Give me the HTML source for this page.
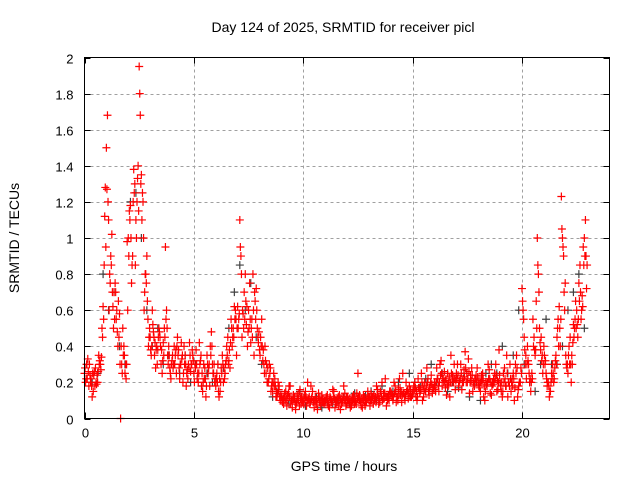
<!DOCTYPE html>
<html><head><meta charset="utf-8"><style>
body{margin:0;background:#fff}
svg{display:block;font-family:"Liberation Sans",sans-serif}
</style></head><body>
<svg id="chart" width="640" height="480">
<text x="343" y="32" font-size="14" text-anchor="middle">Day 124 of 2025, SRMTID for receiver picl</text>
<text x="344" y="471" font-size="14" text-anchor="middle">GPS time / hours</text>
<text x="19" y="238" font-size="14" text-anchor="middle" transform="rotate(-90 19 238)">SRMTID / TECUs</text>
<g id="grid"></g>
<g id="ticks"></g>
<g id="gray"></g>
<g id="red"></g>
<rect x="84.5" y="57.5" width="525" height="361" fill="none" stroke="#000"/>
</svg>
<script>
const xTicks=[0,5,10,15,20];
const yTicks=[0,0.2,0.4,0.6,0.8,1,1.2,1.4,1.6,1.8,2];
const yTickLabels=["0","0.2","0.4","0.6","0.8","1","1.2","1.4","1.6","1.8","2"];
const redAStart=0, redAStep=0.1;
const redA=[0.25,0.3,0.18,0.22,0.15,0.28,0.2,0.32,0.5,0.85,
1.5,1.1,0.9,0.62,0.75,0.48,0.58,0.3,0.4,0.22,
1.0,1.18,0.9,1.3,1.2,1.95,1.35,1.0,0.8,0.55,
0.45,0.6,0.35,0.4,0.5,0.3,0.42,0.95,0.35,0.28,
0.32,0.4,0.25,0.38,0.3,0.2,0.35,0.27,0.42,0.3,
0.25,0.38,0.2,0.32,0.15,0.28,0.35,0.3,0.48,0.25,
0.18,0.3,0.15,0.35,0.22,0.4,0.32,0.55,0.5,0.6,
0.62,1.1,0.45,0.7,0.52,0.6,0.42,0.8,0.65,0.5,
0.38,0.55,0.3,0.25,0.2,0.28,0.15,0.22,0.12,0.18,
0.12,0.08,0.15,0.1,0.18,0.06,0.12,0.09,0.14,0.08,
0.1,0.15,0.2,0.08,0.12,0.06,0.1,0.14,0.07,0.11,
0.09,0.13,0.06,0.1,0.15,0.08,0.12,0.05,0.1,0.14,
0.08,0.11,0.07,0.13,0.09,0.25,0.1,0.06,0.12,0.09,
0.1,0.14,0.08,0.12,0.16,0.09,0.2,0.11,0.07,0.13,
0.15,0.1,0.18,0.12,0.22,0.09,0.14,0.2,0.11,0.16,
0.13,0.2,0.1,0.17,0.25,0.12,0.15,0.22,0.18,0.14,
0.2,0.28,0.15,0.32,0.22,0.17,0.25,0.12,0.2,0.3,
0.25,0.18,0.3,0.22,0.37,0.2,0.14,0.28,0.19,0.24,
0.2,0.15,0.25,0.1,0.18,0.27,0.13,0.22,0.3,0.16,
0.2,0.12,0.28,0.35,0.2,0.15,0.25,0.3,0.12,0.2,
0.72,0.45,0.22,0.3,0.15,0.55,0.35,1.0,0.5,0.32,
0.4,0.25,0.2,0.15,0.3,0.28,0.45,0.62,1.23,0.9,
0.35,0.25,0.45,0.3,0.5,0.6,0.75,0.55,0.95,1.1];
const redBStart=0.05, redBStep=0.1;
const redB=[0.2,0.33,0.24,0.12,0.26,0.19,0.35,0.27,0.62,1.28,
1.68,0.8,1.02,0.7,0.55,0.65,0,0.5,0.25,0.98,
1.15,0.75,1.38,1.1,1.4,1.68,1.25,0.7,0.9,0.45,
0.35,0.48,0.28,0.38,0.45,0.25,0.5,0.6,0.4,0.22,
0.28,0.35,0.45,0.22,0.33,0.4,0.18,0.3,0.26,0.35,
0.3,0.22,0.42,0.18,0.3,0.12,0.25,0.4,0.3,0.2,
0.25,0.12,0.28,0.2,0.3,0.45,0.28,0.4,0.62,0.35,
0.55,0.9,0.58,0.8,0.4,0.75,0.55,0.35,0.72,0.42,
0.45,0.32,0.4,0.2,0.3,0.18,0.25,0.12,0.2,0.1,
0.09,0.14,0.07,0.18,0.1,0.13,0.05,0.11,0.16,0.1,
0.13,0.07,0.11,0.18,0.09,0.12,0.05,0.09,0.13,0.08,
0.12,0.07,0.11,0.16,0.06,0.09,0.13,0.08,0.18,0.07,
0.1,0.06,0.12,0.08,0.14,0.1,0.07,0.13,0.09,0.15,
0.07,0.12,0.1,0.18,0.08,0.14,0.11,0.22,0.1,0.15,
0.12,0.2,0.09,0.16,0.13,0.25,0.1,0.15,0.18,0.12,
0.18,0.12,0.22,0.15,0.1,0.2,0.28,0.13,0.24,0.17,
0.15,0.22,0.3,0.18,0.26,0.13,0.2,0.35,0.23,0.16,
0.3,0.21,0.16,0.27,0.2,0.33,0.24,0.15,0.22,0.28,
0.17,0.24,0.12,0.2,0.3,0.14,0.2,0.25,0.15,0.38,
0.15,0.25,0.18,0.12,0.3,0.22,0.1,0.35,0.18,0.28,
0.6,0.3,0.4,0.2,0.25,0.45,0.65,0.8,0.38,0.25,
0.3,0.18,0.12,0.25,0.2,0.35,0.55,0.4,1.0,0.6,
0.28,0.4,0.2,0.52,0.65,0.45,0.85,0.68,1.0,0.72];
const redCStart=0.025, redCStep=0.1;
const redC=[0.28,0.22,0.3,0.18,0.24,0.2,0.26,0.3,0.45,1.12,
1.27,0.6,0.85,0.5,0.7,0.4,0.3,0.25,0.35,0.3,
0.9,1.0,1.2,0.85,1.33,1.8,1.1,0.6,0.75,0.4,
0.38,0.52,0.42,0.3,0.48,0.38,0.35,0.55,0.3,0.25,
0.35,0.3,0.4,0.28,0.42,0.25,0.3,0.22,0.35,0.38,
0.2,0.3,0.25,0.35,0.2,0.22,0.3,0.18,0.4,0.3,
0.22,0.15,0.2,0.3,0.25,0.35,0.38,0.5,0.45,0.55,
0.5,0.95,0.6,0.55,0.62,0.5,0.5,0.6,0.55,0.45,
0.35,0.4,0.25,0.3,0.22,0.15,0.2,0.18,0.14,0.12,
0.1,0.12,0.11,0.14,0.08,0.1,0.09,0.13,0.07,0.12,
0.08,0.12,0.1,0.09,0.15,0.1,0.08,0.12,0.1,0.09,
0.1,0.08,0.12,0.09,0.11,0.1,0.07,0.11,0.12,0.1,
0.12,0.09,0.1,0.11,0.08,0.12,0.09,0.1,0.07,0.11,
0.12,0.1,0.13,0.09,0.12,0.15,0.1,0.14,0.12,0.1,
0.14,0.12,0.15,0.1,0.17,0.13,0.12,0.15,0.14,0.12,
0.15,0.17,0.12,0.14,0.2,0.16,0.18,0.15,0.2,0.17,
0.18,0.22,0.2,0.25,0.2,0.22,0.18,0.2,0.24,0.22,
0.22,0.2,0.25,0.2,0.28,0.22,0.2,0.24,0.18,0.2,
0.18,0.2,0.22,0.15,0.2,0.22,0.18,0.2,0.24,0.2,
0.18,0.15,0.22,0.25,0.18,0.2,0.22,0.25,0.16,0.2,
0.65,0.38,0.3,0.25,0.2,0.4,0.38,0.85,0.42,0.35,
0.35,0.22,0.18,0.2,0.25,0.32,0.5,0.5,1.05,0.7,
0.3,0.35,0.3,0.42,0.55,0.52,0.65,0.6,0.85,0.9];
const redDStart=0.075, redDStep=0.1;
const redD=[0.22,0.26,0.2,0.25,0.18,0.24,0.3,0.34,0.55,0.95,
1.2,0.75,0.7,0.55,0.6,0.45,0.4,0.35,0.3,0.6,
1.1,0.85,1.25,1.0,1.15,1.3,1.2,0.8,0.65,0.5,
0.4,0.45,0.38,0.45,0.4,0.32,0.45,0.5,0.35,0.3,
0.3,0.38,0.35,0.3,0.35,0.3,0.25,0.28,0.3,0.32,
0.28,0.25,0.3,0.25,0.22,0.18,0.28,0.35,0.25,0.22,
0.2,0.22,0.25,0.28,0.32,0.3,0.42,0.45,0.55,0.5,
0.58,0.8,0.5,0.65,0.48,0.55,0.45,0.7,0.6,0.48,
0.4,0.38,0.32,0.28,0.25,0.2,0.18,0.15,0.16,0.13,
0.11,0.1,0.13,0.12,0.1,0.11,0.08,0.1,0.11,0.09,
0.11,0.1,0.12,0.11,0.1,0.08,0.11,0.1,0.09,0.1,
0.11,0.1,0.09,0.12,0.1,0.11,0.1,0.09,0.1,0.12,
0.1,0.1,0.09,0.1,0.11,0.13,0.11,0.09,0.1,0.12,
0.1,0.12,0.11,0.13,0.11,0.12,0.14,0.12,0.11,0.13,
0.13,0.14,0.12,0.13,0.15,0.14,0.13,0.16,0.12,0.14,
0.16,0.15,0.17,0.16,0.18,0.15,0.2,0.17,0.19,0.16,
0.2,0.18,0.24,0.22,0.21,0.19,0.23,0.25,0.2,0.21,
0.24,0.22,0.2,0.23,0.25,0.26,0.21,0.2,0.22,0.23,
0.2,0.21,0.18,0.19,0.22,0.2,0.19,0.22,0.21,0.24,
0.2,0.2,0.18,0.2,0.22,0.18,0.17,0.28,0.2,0.25,
0.55,0.35,0.32,0.22,0.22,0.38,0.5,0.7,0.45,0.3,
0.32,0.2,0.15,0.22,0.22,0.3,0.4,0.55,0.95,0.75,
0.3,0.3,0.35,0.45,0.5,0.55,0.7,0.62,0.9,0.85];
const grayStart=0.1, grayStep=0.25;
const gray=[0.3,0.2,0.25,0.8,0.6,0.7,0.4,0.3,1.2,1.25,1.0,0.6,0.4,0.5,0.3,0.35,0.3,0.25,0.35,0.2,0.3,0.18,0.25,0.2,0.3,0.28,0.5,0.7,0.85,0.6,0.75,0.45,0.3,0.2,0.12,0.15,0.1,0.08,0.12,0.15,0.07,0.1,0.12,0.06,0.09,0.08,0.1,0.12,0.08,0.14,0.1,0.13,0.15,0.1,0.18,0.12,0.15,0.2,0.14,0.25,0.2,0.18,0.22,0.3,0.2,0.25,0.15,0.2,0.17,0.25,0.12,0.2,0.1,0.25,0.3,0.25,0.4,0.25,0.35,0.6,0.3,0.2,0.15,0.3,0.55,0.3,0.3,0.4,0.6,0.7,0.8,0.5];

const NS='http://www.w3.org/2000/svg';
const X0=84.5,X1=609.5,Y0=418.5,Y1=57.5;
function xs(t){return X0+(t/24)*(X1-X0);}
function ys(v){return Y0-(v/2)*(Y0-Y1);}
function mk(tag,attrs,parent){const e=document.createElementNS(NS,tag);for(const k in attrs)e.setAttribute(k,attrs[k]);parent.appendChild(e);return e;}
const grid=document.getElementById('grid'),ticks=document.getElementById('ticks');
xTicks.forEach((t,i)=>{
  const x=Math.round(xs(t))+0.5;
  if(i>0){const g=mk('line',{x1:x,x2:x,y1:Y1,y2:Y0,stroke:'#a0a0a0','stroke-dasharray':'3,3'},grid);
  
  }
  mk('line',{x1:x,x2:x,y1:Y0,y2:Y0-6,stroke:'#000'},ticks);
  mk('line',{x1:x,x2:x,y1:Y1,y2:Y1+6,stroke:'#000'},ticks);
  const l=mk('text',{x:x,y:Y0+19,'font-size':13,'text-anchor':'middle'},ticks);
  l.textContent=String(t);
  
  
});
yTicks.forEach((v,i)=>{
  const y=Math.round(ys(v))+0.5;
  if(i>0&&i<yTicks.length-1){const g=mk('line',{x1:X0,x2:X1,y1:y,y2:y,stroke:'#a0a0a0','stroke-dasharray':'3,3'},grid);
  
  }
  mk('line',{x1:X0,x2:X0+6,y1:y,y2:y,stroke:'#000'},ticks);
  mk('line',{x1:X1,x2:X1-6,y1:y,y2:y,stroke:'#000'},ticks);
  const l=mk('text',{x:X0-11,y:y+5,'font-size':13,'text-anchor':'end'},ticks);
  l.textContent=yTickLabels[i];
  
  
});
function plus(g,t,v,color){
  const x=xs(t),y=ys(v);
  const p=mk('path',{d:`M${x-4},${y}H${x+4}M${x},${y-4}V${y+4}`,stroke:color,'stroke-width':1.2,fill:'none'},g);
  
  
}
const gg=document.getElementById('gray'),rg=document.getElementById('red');
gray.forEach((v,i)=>plus(gg,grayStart+i*grayStep,v,'#404040'));
redA.forEach((v,i)=>plus(rg,redAStart+i*redAStep,v,'#ff0000'));
redB.forEach((v,i)=>plus(rg,redBStart+i*redBStep,v,'#ff0000'));
redC.forEach((v,i)=>plus(rg,redCStart+i*redCStep,v,'#ff0000'));
redD.forEach((v,i)=>plus(rg,redDStart+i*redDStep,v,'#ff0000'));
</script>
</body></html>
